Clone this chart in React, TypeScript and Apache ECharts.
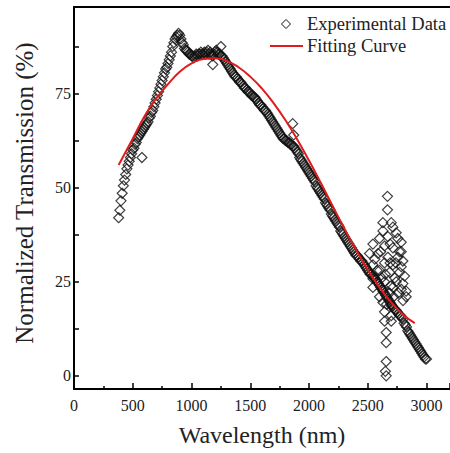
import React, { useEffect, useRef } from "react";
import * as echarts from "echarts";

const bandWavelength = [
  380, 390, 400, 410, 420, 430, 440, 450, 460, 470,
  480, 490, 500, 510, 520, 530, 540, 550, 560, 570,
  580, 590, 600, 610, 620, 630, 640, 650, 660, 670,
  680, 690, 700, 710, 720, 730, 740, 750, 760, 770,
  780, 790, 800, 810, 820, 830, 840, 850, 860, 870,
  880, 890, 900, 910, 920, 930, 940, 950, 960, 970,
  980, 990, 1000, 1010, 1020, 1030, 1040, 1050, 1060, 1070,
  1080, 1090, 1100, 1110, 1120, 1130, 1140, 1150, 1160, 1170,
  1180, 1190, 1200, 1210, 1220, 1230, 1240, 1250, 1260, 1270,
  1280, 1290, 1300, 1310, 1320, 1330, 1340, 1350, 1360, 1370,
  1380, 1390, 1400, 1410, 1420, 1430, 1440, 1450, 1460, 1470,
  1480, 1490, 1500, 1510, 1520, 1530, 1540, 1550, 1560, 1570,
  1580, 1590, 1600, 1610, 1620, 1630, 1640, 1650, 1660, 1670,
  1680, 1690, 1700, 1710, 1720, 1730, 1740, 1750, 1760, 1770,
  1780, 1790, 1800, 1810, 1820, 1830, 1840, 1850, 1860, 1870,
  1880, 1890, 1900, 1910, 1920, 1930, 1940, 1950, 1960, 1970,
  1980, 1990, 2000, 2010, 2020, 2030, 2040, 2050, 2060, 2070,
  2080, 2090, 2100, 2110, 2120, 2130, 2140, 2150, 2160, 2170,
  2180, 2190, 2200, 2210, 2220, 2230, 2240, 2250, 2260, 2270,
  2280, 2290, 2300, 2310, 2320, 2330, 2340, 2350, 2360, 2370,
  2380, 2390, 2400, 2410, 2420, 2430, 2440, 2450, 2460, 2470,
  2480, 2490, 2500, 2510, 2520, 2530, 2540, 2550, 2560, 2570,
  2580, 2590, 2600, 2610, 2620, 2630, 2640, 2650, 2660, 2670,
  2680, 2690, 2700, 2710, 2720, 2730, 2740, 2750, 2760, 2770,
  2780, 2790, 2800, 2810, 2820, 2830, 2840, 2850, 2860, 2870,
  2880, 2890, 2900, 2910, 2920, 2930, 2940, 2950, 2960, 2970,
  2980, 2990, 3000,
];
const bandTransmission = [
  42, 44, 46.5, 48.5, 50.5, 52, 53.5, 55, 56, 57,
  58, 59, 60, 60.5, 61.5, 62, 63, 63.5, 64, 64.5,
  65, 65.5, 66, 66.5, 67, 67.5, 68.5, 69, 70, 70.5,
  71.5, 72.5, 73.5, 74.5, 75.5, 76.5, 77.5, 78.5, 79.5, 80.5,
  81.5, 82, 83, 84, 85, 86, 87.5, 88.5, 89.5, 90,
  90.5, 91, 90.5, 89.5, 88.5, 88, 87, 86.5, 86.5, 86,
  85.5, 85.5, 85, 85, 84.5, 85, 85.5, 85, 85.5, 85.5,
  86, 85.5, 85.5, 86, 85.5, 86, 86.5, 85.5, 86, 85.5,
  85, 85.5, 86, 86.5, 86, 85.5, 85.5, 85, 85, 84.5,
  84, 83.5, 83, 82.5, 82, 81.5, 81, 80.5, 80, 79.5,
  79.5, 79, 78.5, 78, 78, 77.5, 77, 76.5, 76.5, 76,
  75.5, 75.5, 75, 74.5, 74.5, 74, 74, 73.5, 73, 72.5,
  72, 72, 71.5, 71, 70.5, 70.5, 70, 69.5, 69, 68.5,
  68, 67.5, 67, 66.5, 66, 65.5, 65, 64.5, 64, 63.5,
  63, 63, 62.5, 62.5, 62, 62, 61.5, 61.5, 61, 61,
  60.5, 60, 59.5, 59, 58, 57.5, 57, 56.5, 56, 55.5,
  55, 54.5, 54, 53.5, 53, 52.5, 52, 51.5, 50.5, 50,
  49.5, 49, 48.5, 48, 47.5, 47, 46, 45.5, 45, 44.5,
  44, 43, 42.5, 42, 41.5, 41, 40.5, 40, 39.5, 38.5,
  38, 37.5, 37, 36.5, 36, 35.5, 35, 34.5, 34, 33.5,
  33, 32.5, 32, 32, 31.5, 31, 30.5, 30.5, 30, 29.5,
  29, 28.5, 28, 27.5, 27, 27, 26.5, 26.5, 26, 25.5,
  25, 24.5, 24, 23.5, 23, 22.5, 22, 21.5, 21, 20.5,
  20, 19.5, 19, 18.5, 18, 17.5, 17.5, 17, 16.5, 16,
  16, 15.5, 15, 14, 13.5, 13, 12, 11.5, 11, 10.5,
  10, 9.5, 9, 8.5, 8, 7.5, 7, 6.5, 6, 5.5,
  5, 4.5, 4.5,
];

const noiseWavelength = [
  578, 1181, 1250, 1861, 1870,
  2668, 2668, 2629, 2700, 2629, 2714, 2742, 2600, 2671, 2756, 2785, 2544, 2643, 2714, 2785,
  2515, 2587, 2671, 2756, 2799, 2544, 2643, 2714, 2785, 2600, 2686, 2771, 2813, 2544, 2643,
  2742, 2799, 2544, 2629, 2714, 2785, 2600, 2686, 2827, 2629, 2700, 2827, 2643, 2700, 2643,
  2700, 2657, 2657, 2657, 2650, 2657,
  2560, 2610, 2650, 2690, 2730, 2760, 2800, 2620, 2700, 2740, 2580, 2660, 2720, 2770, 2690,
];
const noiseTransmission = [
  58, 82.7, 87.5, 67, 64,
  47.7, 44.1, 40.7, 40.7, 38.5, 39.5, 38, 36.5, 37, 36.5, 35.5, 35, 34.5, 34, 33,
  32.5, 32.5, 31.5, 31.5, 30.5, 29.5, 30, 29.5, 29, 28, 27.5, 27.5, 26.5, 25.8, 25,
  25, 24.5, 23.5, 23, 23.5, 23, 21, 22, 22.5, 19.5, 18.6, 21, 17, 16, 14.5,
  14.5, 11.5, 8.8, 3.8, 1.2, 0,
  31, 33, 27, 35, 26, 22, 20, 26, 24, 30, 28, 19, 21, 33, 30,
];

const fitWavelength = [
  380, 500, 600, 700, 800, 900, 1000, 1100, 1200, 1300, 1400, 1500, 1600, 1700, 1800, 1900, 2000,
  2100, 2200, 2300, 2400, 2500, 2600, 2700, 2800, 2900,
];
const fitTransmission = [
  56, 63, 69, 73.7, 77.5, 80.8, 83, 84.2, 84.4, 83.7, 82, 79.5, 76.3, 72.4, 67.9, 62.8, 57.2,
  51.3, 45.2, 39.2, 33.5, 28.2, 23.5, 19.5, 16.3, 14,
];

const xTicks = [0, 500, 1000, 1500, 2000, 2500, 3000];
const yTicks = [0, 25, 50, 75];
const yMinorTicks = [0, 12.5, 25, 37.5, 50, 62.5, 75, 87.5];

const SERIF = "'Liberation Serif', 'Times New Roman', serif";

export default function App() {
  const ref = useRef<HTMLDivElement>(null);
  useEffect(() => {
    if (!ref.current) return;
    const chart = echarts.init(ref.current, null, { renderer: "svg" });
    const expData = bandWavelength
      .map((x, i) => [x, bandTransmission[i]])
      .concat(noiseWavelength.map((x, i) => [x, noiseTransmission[i]]));
    const fitData = fitWavelength.map((x, i) => [x, fitTransmission[i]]);
    const xAxisBase = {
      type: "value",
      min: 0,
      max: 3200,
      splitLine: { show: false },
    };
    chart.setOption({
      animation: false,
      backgroundColor: "#fff",
      grid: { left: 74, top: 7, right: 0, bottom: 64, containLabel: false },
      xAxis: [
        {
          ...xAxisBase,
          position: "bottom",
          interval: 500,
          name: "Wavelength (nm)",
          nameLocation: "middle",
          nameGap: 34,
          nameTextStyle: { fontFamily: SERIF, fontSize: 24, color: "#222" },
          axisLine: { show: true, onZero: false, lineStyle: { color: "#000", width: 2 } },
          axisTick: { show: true, inside: true, length: 6, lineStyle: { color: "#000", width: 1.5 } },
          minorTick: { show: true, splitNumber: 2, length: 3, lineStyle: { color: "#000", width: 1.5 } },
          axisLabel: {
            fontFamily: SERIF,
            fontSize: 16,
            color: "#222",
            margin: 8,
            customValues: xTicks,
            formatter: (v: number) => String(v),
          },
        },
        {
          ...xAxisBase,
          position: "top",
          axisLine: { show: true, onZero: false, lineStyle: { color: "#000", width: 2 } },
          axisTick: { show: false },
          axisLabel: { show: false },
        },
      ],
      yAxis: {
        type: "value",
        min: -3.5,
        max: 98,
        splitLine: { show: false },
        axisLine: { show: true, onZero: false, lineStyle: { color: "#000", width: 2 } },
        axisTick: {
          show: true,
          inside: true,
          length: 5,
          customValues: yMinorTicks,
          lineStyle: { color: "#000", width: 1.5 },
        },
        axisLabel: {
          fontFamily: SERIF,
          fontSize: 16,
          color: "#222",
          margin: 3,
          customValues: yTicks,
        },
      },
      series: [
        {
          name: "Experimental Data",
          type: "scatter",
          data: expData,
          symbol: "diamond",
          symbolSize: [10, 10],
          itemStyle: { color: "rgba(0,0,0,0)", borderColor: "#111", borderWidth: 1.2 },
          z: 2,
        },
        {
          name: "Fitting Curve",
          type: "line",
          data: fitData,
          smooth: true,
          showSymbol: false,
          symbol: "none",
          lineStyle: { color: "#e01b1b", width: 2 },
          z: 3,
        },
      ],
      graphic: [
        {
          type: "text",
          x: 24,
          y: 193,
          rotation: Math.PI / 2,
          style: {
            text: "Normalized Transmission (%)",
            fontFamily: SERIF,
            fontSize: 25,
            fill: "#222",
            align: "center",
            verticalAlign: "middle",
          },
        },
        {
          type: "polygon",
          shape: { points: [[286, 19.5], [290.5, 24], [286, 28.5], [281.5, 24]] },
          style: { fill: "none", stroke: "#111", lineWidth: 1 },
        },
        {
          type: "text",
          x: 307,
          y: 24,
          style: {
            text: "Experimental Data",
            fontFamily: SERIF,
            fontSize: 18.5,
            fill: "#222",
            verticalAlign: "middle",
            align: "left",
          },
        },
        {
          type: "line",
          shape: { x1: 270, y1: 46, x2: 303, y2: 46 },
          style: { stroke: "#e01b1b", lineWidth: 2 },
        },
        {
          type: "text",
          x: 307,
          y: 46,
          style: {
            text: "Fitting Curve",
            fontFamily: SERIF,
            fontSize: 18.5,
            fill: "#222",
            verticalAlign: "middle",
            align: "left",
          },
        },
      ],
    });
    return () => chart.dispose();
  }, []);
  return (
    <div
      ref={ref}
      style={{ position: "fixed", left: 0, top: 0, width: 450, height: 453, background: "#fff" }}
    />
  );
}
